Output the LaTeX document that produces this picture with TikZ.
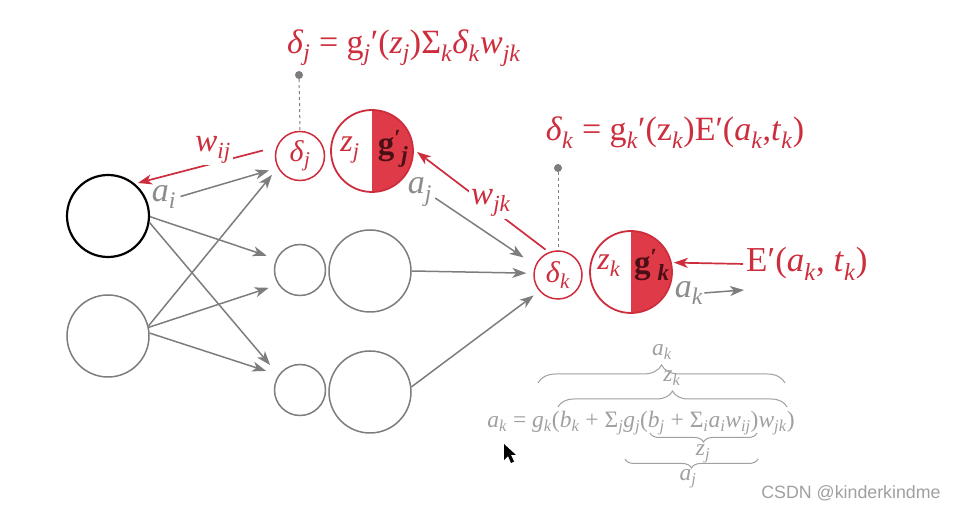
\documentclass[tikz,border=0pt]{standalone}
\usepackage{fontspec}
\setmainfont{Liberation Serif}
\newfontfamily\wmfont{Liberation Sans}
\usetikzlibrary{decorations.pathreplacing,arrows.meta}
\definecolor{myred}{RGB}{205,45,60}
\definecolor{redfill}{RGB}{222,58,72}
\definecolor{darkg}{RGB}{75,15,22}
\definecolor{lgray}{RGB}{125,125,125}
\definecolor{tgray}{RGB}{140,140,140}
\definecolor{egray}{RGB}{160,160,160}
\newcommand\I[1]{\textit{#1}}
\newcommand\Sb[1]{\textsubscript{\textit{#1}}}
\newcommand\gp[1]{g\textsuperscript{′}\textsubscript{\textit{#1}}}
\begin{document}
\begin{tikzpicture}[x=1pt,y=-1pt,
  inpt/.style={circle,inner sep=0pt,minimum size=82pt,draw=lgray,line width=1.5pt},
  smallc/.style={circle,inner sep=0pt,minimum size=51pt,draw=lgray,line width=1.5pt},
  bigc/.style={circle,inner sep=0pt,minimum size=82pt,draw=lgray,line width=1.5pt},
  redsmall/.style={circle,inner sep=0pt,minimum size=49pt,draw=myred,line width=1.5pt,text=myred,font=\fontsize{30}{32}\selectfont},
  redbig/.style={circle,inner sep=0pt,minimum size=82pt,draw=myred,line width=1.8pt,
     path picture={\fill[redfill] (path picture bounding box.north) rectangle (path picture bounding box.south east);}},
  zlab/.style={inner sep=0pt,text=myred,font=\fontsize{32}{34}\selectfont},
  glab/.style={inner sep=0pt,text=darkg,font=\fontsize{33}{35}\selectfont\bfseries},
  conn/.style={draw=lgray,line width=1.5pt,-{Stealth[length=14pt,width=10pt,inset=4pt]}},
  redconn/.style={draw=myred,line width=1.7pt,-{Stealth[length=14pt,width=10pt,inset=4pt]}},
  glbl/.style={inner sep=0pt,text=tgray,font=\fontsize{34}{36}\selectfont},
  rlbl/.style={inner sep=1pt,text=myred,font=\fontsize{34}{36}\selectfont},
  wlbl/.style={inner sep=2pt,fill=white,text=myred,font=\fontsize{33}{36}\selectfont},
  dot/.style={circle,fill=lgray,inner sep=0pt,minimum size=8pt},
  dashln/.style={draw=lgray,line width=1pt,dash pattern=on 3pt off 3pt},
  brc/.style={draw=egray,line width=1pt,decorate},
  elbl/.style={inner sep=0pt,text=egray,font=\fontsize{23.5}{25}\selectfont}
]
\fill[white] (0,0) rectangle (954,510);
\useasboundingbox (0,0) rectangle (954,510);

% input layer
\node[inpt,draw=black,line width=2.2pt] (in1) at (108,216) {};
\node[inpt] (in2) at (108,336) {};

% hidden layer
\node[redsmall] (dj1) at (300,156) {\I{δ}\Sb{j}};
\node[redbig] (hj1) at (372,151) {};
\node[zlab] (zj) at (350,150) {\I{z}\Sb{j}};
\node[glab] (gj) at (393,149) {\gp{j}};
\node[smallc] (dj2) at (300,270) {};
\node[bigc] (hj2) at (370,271) {};
\node[smallc] (dj3) at (300,390) {};
\node[bigc] (hj3) at (370,392) {};

% output
\node[redsmall,minimum size=48pt] (dk) at (558,275) {\I{δ}\Sb{k}};
\node[redbig] (ho) at (631,272) {};
\node[zlab] (zk) at (609,266) {\I{z}\Sb{k}};
\node[glab] (gk) at (652,265) {\gp{k}};

% labels
\node[glbl] (ai) at (164,197) {\I{a}\Sb{i}};
\node[glbl] (aj) at (420,192) {\I{a}\Sb{j}};
\node[glbl] (ak) at (689,293) {\I{a}\Sb{k}};
\coordinate (akend) at (744,290);
\node[rlbl,anchor=west,font=\fontsize{35}{38}\selectfont] (E) at (745,264) {E′(\I{a}\Sb{k}, \I{t}\Sb{k})};

% formulas
\node[dot] (dot1) at (299,75) {};
\node[dot] (dot2) at (558,168) {};
\node[rlbl] (fj) at (404,48) {\I{δ}\Sb{j} = g\Sb{j}′(\I{z}\Sb{j})Σ\Sb{k}\I{δ}\Sb{k}\I{w}\Sb{jk}};
\node[rlbl] (fk) at (675,133) {\I{δ}\Sb{k} = g\Sb{k}′(z\Sb{k})E′(\I{a}\Sb{k},\I{t}\Sb{k})};
\draw[dashln] (dot1) -- (dj1.north);
\draw[dashln] (dot2) -- (dk.north);

% input -> hidden
\draw[conn,shorten <=33pt,shorten >=9pt] (in1.14) -- (dj1.208);
\draw[conn,shorten >=10pt] (in1.-1) -- (dj2.155);
\draw[conn,shorten >=13pt] (in1.-9) -- (dj3.145);
\draw[conn,shorten >=9pt] (in2.14) -- (dj1.208);
\draw[conn,shorten >=10pt] (in2.12) -- (dj2.214);
\draw[conn,shorten >=13pt] (in2.4) -- (dj3.145);

% hidden -> output
\draw[conn,shorten <=37pt,shorten >=14pt] (hj1.-39) -- (dk.157);
\draw[conn,shorten >=7pt] (hj2.0) -- (dk.176);
\draw[conn,shorten >=7pt] (hj3.7) -- (dk.221);
\draw[conn,shorten <=1pt] (ak.east) -- (akend);

% back-propagation (red)
\draw[redconn,shorten <=4pt,shorten >=4pt] (dk.112) -- (hj1.2);
\node[wlbl] (wjk) at (491,203) {\I{w}\Sb{jk}};
\draw[redconn,shorten <=14pt,shorten >=3pt] (dj1.159) -- (in1.50);
\node[wlbl] (wij) at (213,150) {\I{w}\Sb{ij}};
\draw[redconn,shorten <=2pt,shorten >=2pt] (E.west) -- (ho.13);

% bottom equation
\node[elbl] (eq) at (641,423) {\I{a}\Sb{k} = \I{g}\Sb{k}(\I{b}\Sb{k} + Σ\Sb{j}\I{g}\Sb{j}(\I{b}\Sb{j} + Σ\Sb{i}\I{a}\Sb{i}\I{w}\Sb{ij})\I{w}\Sb{jk})};
\draw[brc,decoration={brace,amplitude=18pt}] (538,383) -- (785,383);
\node[elbl] (lak) at (662,352) {\I{a}\Sb{k}};
\draw[brc,decoration={brace,amplitude=16pt}] (558,407) -- (787,407);
\node[elbl] (lzk) at (672,378) {\I{z}\Sb{k}};
\draw[brc,decoration={brace,amplitude=9pt}] (757,433) -- (650,433);
\node[elbl] (lzj) at (703,454) {\I{z}\Sb{j}};
\draw[brc,decoration={brace,amplitude=9pt}] (758,459) -- (625,459);
\node[elbl] (laj) at (688,479) {\I{a}\Sb{j}};

% mouse cursor
\fill[black] (504,444) -- (504,460) -- (508,456) -- (511,463) -- (514,461.5) -- (511,455) -- (516,455) -- cycle;

% watermark
\node[inner sep=0pt,text=egray,font=\wmfont\fontsize{17.8}{20}\selectfont] (wm) at (851,493) {CSDN @kinderkindme};
\end{tikzpicture}
\end{document}
